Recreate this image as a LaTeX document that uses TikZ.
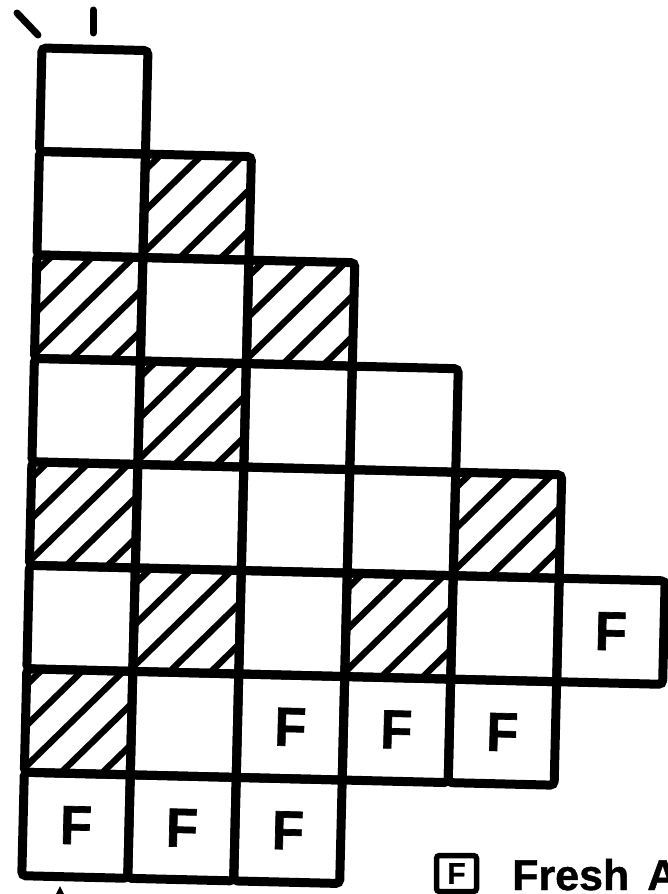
\documentclass[tikz,border=0pt]{standalone}
\usepackage{fontspec}
\setmainfont{Liberation Sans}
\newfontfamily\cellfont[FakeStretch=0.95,FakeBold=1.2]{Liberation Sans Bold}
\newfontfamily\legfont[FakeBold=1.0]{Liberation Sans Bold}
\usetikzlibrary{calc}
\tikzset{
  cell/.style={draw, line width=9pt, rounded corners=4pt,
    minimum width=106pt, minimum height=103.5pt, inner sep=0pt, outer sep=0pt,
    font=\cellfont\fontsize{55}{55}\selectfont},
  hatch/.style={path picture={
    \foreach \t in {0.086,0.277,0.468,0.659,0.85}{
      \coordinate (hp) at ($(path picture bounding box.north west)!\t!(path picture bounding box.south east)$);
      \draw[line width=6.5pt]
        ($(hp)+(path picture bounding box.north east)-(path picture bounding box.south west)$) --
        ($(hp)-(path picture bounding box.north east)+(path picture bounding box.south west)$);
    }}},
  tickmark/.style={line width=7pt, line cap=round},
  legbox/.style={draw, line width=5.5pt, rounded corners=3pt, minimum width=40pt,
    minimum height=36pt, inner sep=0pt, font=\legfont\fontsize{30}{30}\selectfont},
  legtext/.style={inner sep=0pt, anchor=base west, font=\legfont\fontsize{43}{43}\selectfont}
}
\begin{document}
\begin{tikzpicture}[x=1pt,y=-1pt]
\useasboundingbox (0,0) rectangle (668,894);
\begin{scope}[rotate around={-1.4:(42,48)}, transform shape]
  % plain cells
  \foreach \c/\r in {1/1, 1/2, 2/3, 1/4, 3/4, 4/4, 2/5, 3/5, 4/5, 1/6, 3/6, 5/6, 2/7}
    \node[cell] (c\c-\r) at ({42+(\c-0.5)*106},{48+(\r-0.5)*103.5}) {};
  % hatched cells
  \foreach \c/\r in {2/2, 1/3, 3/3, 2/4, 1/5, 5/5, 2/6, 4/6, 1/7}
    \node[cell, hatch] (c\c-\r) at ({42+(\c-0.5)*106},{48+(\r-0.5)*103.5}) {};
  % fresh cells
  \foreach \c/\r in {6/6, 3/7, 4/7, 5/7, 1/8, 2/8, 3/8}
    \node[cell] (c\c-\r) at ({42+(\c-0.5)*106},{48+(\r-0.5)*103.5}) {F};
\end{scope}
% marks
\draw[tickmark] (17,13) -- (38,35);
\draw[tickmark] (93,10) -- (93,33);
\fill (60,886) -- (65,896) -- (55,896) -- cycle;
% legend
\node[legbox] (legF) at (456.5,873.5) {F};
\node[legtext] (legT) at (512,890) {Fresh\hspace{6pt} A};
\end{tikzpicture}
\end{document}
